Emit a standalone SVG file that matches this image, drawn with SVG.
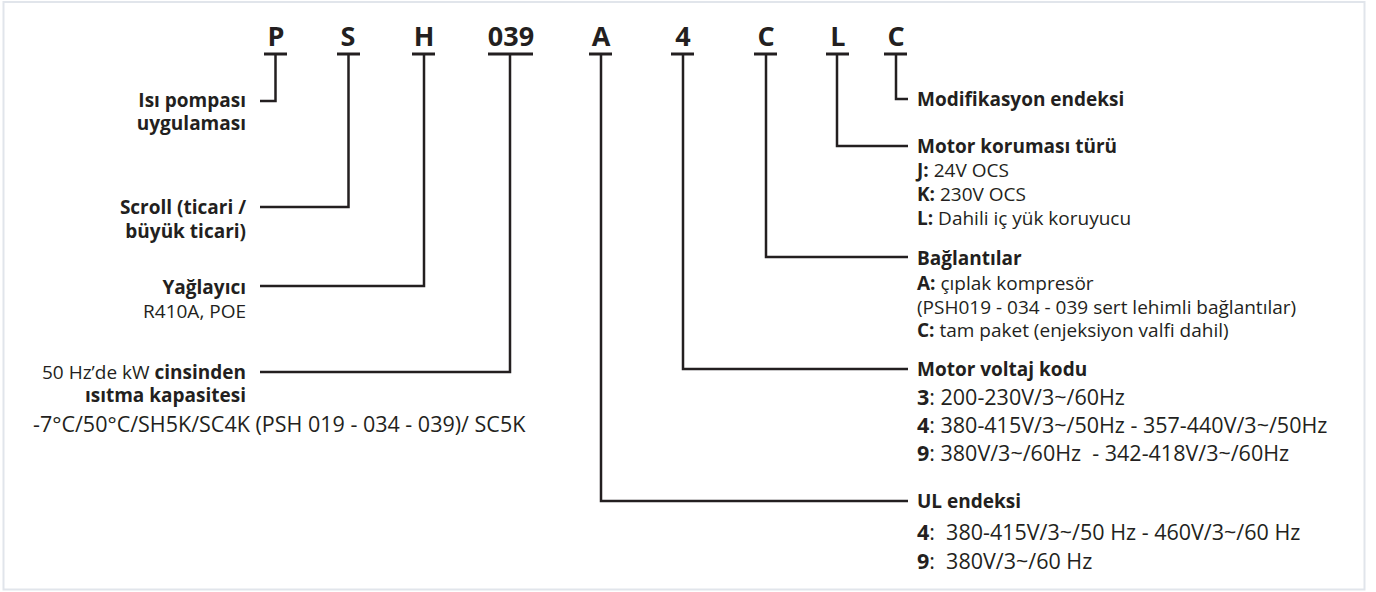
<svg xmlns="http://www.w3.org/2000/svg" width="1376" height="592" viewBox="0 0 1376 592">
<style>
.code{font-family:"Open Sans","Noto Sans","Liberation Sans",sans-serif;font-weight:700;font-size:27px;fill:#231f20;text-anchor:middle}
.lb{font-family:"Open Sans","Noto Sans","Liberation Sans",sans-serif;font-size:19px;fill:#231f20}
.lbl{font-family:"Open Sans","Noto Sans","Liberation Sans",sans-serif;font-size:21.5px;fill:#231f20}
.b{font-weight:700}
.r{text-anchor:end}
.ul{stroke:#231f20;stroke-width:3;fill:none}
.con{stroke:#231f20;stroke-width:2.5;fill:none}
</style>
<rect x="3.5" y="2" width="1361" height="587.5" fill="#ffffff" stroke="#e1e5eb" stroke-width="2"/>
<g id="code-P"><text class="code" x="276" y="46">P</text><line class="ul" x1="264" y1="54" x2="287" y2="54"/></g>
<g id="code-S"><text class="code" x="348" y="46">S</text><line class="ul" x1="337" y1="54" x2="360" y2="54"/></g>
<g id="code-H"><text class="code" x="424" y="46">H</text><line class="ul" x1="412" y1="54" x2="435" y2="54"/></g>
<g id="code-039"><text class="code" x="511" y="46">039</text><line class="ul" x1="488" y1="54" x2="533" y2="54"/></g>
<g id="code-A"><text class="code" x="601" y="46">A</text><line class="ul" x1="589" y1="54" x2="612" y2="54"/></g>
<g id="code-4"><text class="code" x="683" y="46">4</text><line class="ul" x1="671" y1="54" x2="694" y2="54"/></g>
<g id="code-C1"><text class="code" x="766" y="46">C</text><line class="ul" x1="754" y1="54" x2="777" y2="54"/></g>
<g id="code-L"><text class="code" x="838" y="46">L</text><line class="ul" x1="826" y1="54" x2="849" y2="54"/></g>
<g id="code-C2"><text class="code" x="896" y="46">C</text><line class="ul" x1="884" y1="54" x2="907" y2="54"/></g>
<g id="connectors">
<polyline class="con" points="275.5,54 275.5,101 260,101"/>
<polyline class="con" points="348.5,54 348.5,207 260,207"/>
<polyline class="con" points="424,54 424,286 260,286"/>
<polyline class="con" points="510,54 510,372 260,372"/>
<polyline class="con" points="601,54 601,501 908,501"/>
<polyline class="con" points="683,54 683,369 908,369"/>
<polyline class="con" points="766,54 766,257 908,257"/>
<polyline class="con" points="837,54 837,146 908,146"/>
<polyline class="con" points="896,54 896,99 908,99"/>
</g>
<g id="label-isi-pompasi"><text class="lb b r" x="246" y="107">Isı pompası</text><text class="lb b r" x="246" y="130">uygulaması</text></g>
<g id="label-scroll"><text class="lb b r" x="246" y="214">Scroll (ticari /</text><text class="lb b r" x="246" y="238">büyük ticari)</text></g>
<g id="label-yaglayici"><text class="lb b r" x="246" y="294">Yağlayıcı</text><text class="lb r" x="246" y="318">R410A, POE</text></g>
<g id="label-kapasite"><text class="lb r" x="246" y="379">50 Hz’de kW <tspan class="b">cinsinden</tspan></text><text class="lb b r" x="246" y="402">ısıtma kapasitesi</text><text class="lbl" x="33" y="432">-7°C/50°C/SH5K/SC4K (PSH 019 - 034 - 039)/ SC5K</text></g>
<g id="label-modifikasyon"><text class="lb b" x="917" y="106">Modifikasyon endeksi</text></g>
<g id="label-motor-koruma"><text class="lb b" x="917" y="153">Motor koruması türü</text><text class="lb" x="917" y="177"><tspan class="b">J:</tspan> 24V OCS</text><text class="lb" x="917" y="201"><tspan class="b">K:</tspan> 230V OCS</text><text class="lb" x="917" y="225"><tspan class="b">L:</tspan> Dahili iç yük koruyucu</text></g>
<g id="label-baglantilar"><text class="lb b" x="917" y="265">Bağlantılar</text><text class="lb" x="917" y="290"><tspan class="b">A:</tspan> çıplak kompresör</text><text class="lb" x="917" y="314">(PSH019 - 034 - 039 sert lehimli bağlantılar)</text><text class="lb" x="917" y="337"><tspan class="b">C:</tspan> tam paket (enjeksiyon valfi dahil)</text></g>
<g id="label-motor-voltaj"><text class="lb b" x="917" y="376">Motor voltaj kodu</text><text class="lbl" x="917" y="405"><tspan class="b">3</tspan>: 200-230V/3~/60Hz</text><text class="lbl" x="917" y="433"><tspan class="b">4</tspan>: 380-415V/3~/50Hz - 357-440V/3~/50Hz</text><text class="lbl" x="917" y="461" xml:space="preserve"><tspan class="b">9</tspan>: 380V/3~/60Hz  - 342-418V/3~/60Hz</text></g>
<g id="label-ul"><text class="lb b" x="917" y="508">UL endeksi</text><text class="lbl" x="917" y="540" xml:space="preserve"><tspan class="b">4</tspan>:  380-415V/3~/50 Hz - 460V/3~/60 Hz</text><text class="lbl" x="917" y="569" xml:space="preserve"><tspan class="b">9</tspan>:  380V/3~/60 Hz</text></g>
</svg>
